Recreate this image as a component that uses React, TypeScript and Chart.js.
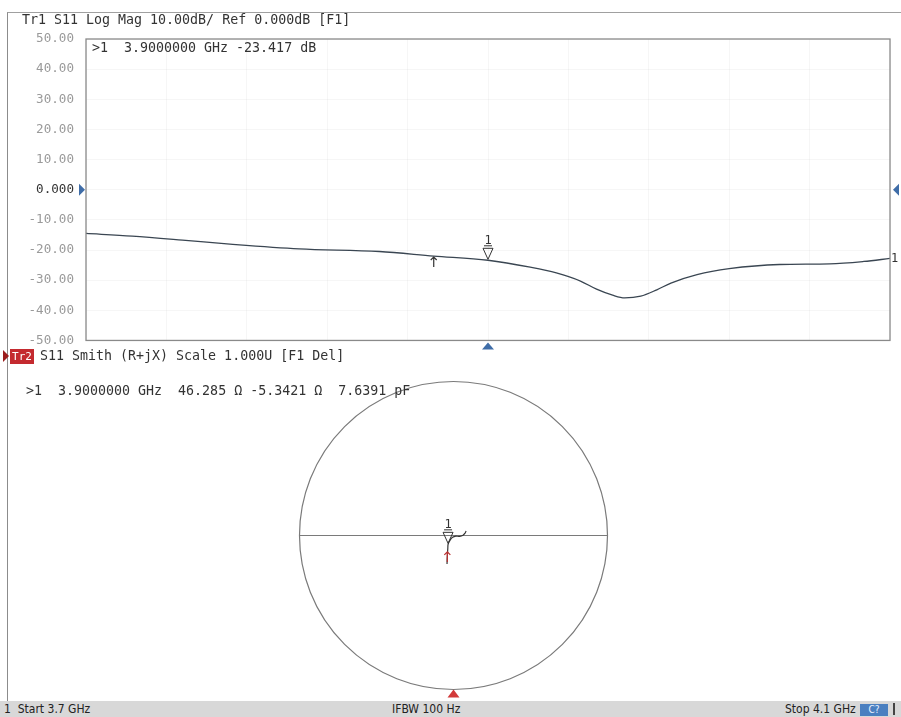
import React, { useEffect, useRef } from "react";
import { Chart, registerables } from "chart.js";
Chart.register(...registerables);

// ---- Trace 1: S11 Log Mag ----
const freqGHz = [3.700, 3.723, 3.748, 3.773, 3.806, 3.846, 3.873, 3.900, 3.921, 3.934, 3.946, 3.954, 3.962, 3.968, 3.976, 3.984, 3.991, 4.004, 4.020, 4.045, 4.070, 4.087, 4.100];
const s11dB = [-14.5, -15.4, -16.7, -18.1, -19.6, -20.5, -22.0, -23.4, -25.7, -27.6, -30.3, -33.0, -35.0, -35.9, -35.3, -33.2, -31.0, -28.2, -26.2, -24.8, -24.6, -23.8, -22.8];
const yTickValues = [-50, -40, -30, -20, -10, 0, 10, 20, 30, 40, 50];
const yTickLabels = ["-50.00", "-40.00", "-30.00", "-20.00", "-10.00", "0.000", "10.00", "20.00", "30.00", "40.00", "50.00"];
const startGHz = 3.7;
const stopGHz = 4.1;
const refLevelDb = 0;
const markerFreq = 3.9;
const markerDb = -23.417;
const auxMarkFreq = 3.873;
const auxMarkDb = -22.0;

// ---- Trace 2: S11 Smith (reflection coefficient) ----
const smithRe = [-0.042, -0.041, -0.039, -0.037, -0.035, -0.022, -0.006, 0.015, 0.040, 0.062, 0.075, 0.082];
const smithIm = [-0.185, -0.150, -0.115, -0.085, -0.057, -0.030, -0.012, -0.004, -0.006, 0.002, 0.015, 0.030];
const smithMarkerRe = -0.0354;
const smithMarkerIm = -0.0574;
const smithAuxRe = -0.040;
const smithAuxIm = -0.100;

const header1 = "Tr1 S11 Log Mag 10.00dB/ Ref 0.000dB [F1]";
const readout1 = ">1  3.9000000 GHz -23.417 dB";
const header2 = "S11 Smith (R+jX) Scale 1.000U [F1 Del]";
const readout2 = ">1  3.9000000 GHz  46.285 \u03A9 -5.3421 \u03A9  7.6391 pF";
const statusStart = "1  Start 3.7 GHz";
const statusMid = "IFBW 100 Hz";
const statusStop = "Stop 4.1 GHz";

const MONO = "'DejaVu Sans Mono', 'Liberation Mono', monospace";
const COND = "'DejaVu Sans Condensed', 'Liberation Sans Narrow', sans-serif";

function tri(ctx: CanvasRenderingContext2D, p: number[][]) {
  ctx.beginPath();
  ctx.moveTo(p[0][0], p[0][1]);
  ctx.lineTo(p[1][0], p[1][1]);
  ctx.lineTo(p[2][0], p[2][1]);
  ctx.closePath();
  ctx.fill();
}

function drawMarker(ctx: CanvasRenderingContext2D, x: number, y: number, label: string) {
  ctx.save();
  ctx.strokeStyle = "#333";
  ctx.lineWidth = 1;
  ctx.beginPath();
  ctx.moveTo(x - 5, y - 12);
  ctx.lineTo(x + 5, y - 12);
  ctx.lineTo(x, y - 1);
  ctx.closePath();
  ctx.stroke();
  ctx.beginPath();
  ctx.moveTo(x - 4, y - 14.5);
  ctx.lineTo(x + 4, y - 14.5);
  ctx.stroke();
  ctx.fillStyle = "#333";
  ctx.font = "12px " + MONO;
  ctx.textAlign = "center";
  ctx.textBaseline = "alphabetic";
  ctx.fillText(label, x, y - 16);
  ctx.restore();
}

function drawAux(ctx: CanvasRenderingContext2D, x: number, y: number, color: string) {
  ctx.save();
  ctx.strokeStyle = color;
  ctx.lineWidth = 1.2;
  ctx.beginPath();
  ctx.moveTo(x, y + 1);
  ctx.lineTo(x, y + 11);
  ctx.moveTo(x - 3, y + 4);
  ctx.lineTo(x, y + 1);
  ctx.lineTo(x + 3, y + 4);
  ctx.stroke();
  ctx.restore();
}

export default function App() {
  const c1 = useRef<HTMLCanvasElement | null>(null);
  const c2 = useRef<HTMLCanvasElement | null>(null);

  useEffect(() => {
    const decor1 = {
      id: "decor1",
      afterDraw(chart: any) {
        const { ctx, chartArea: a, scales } = chart;
        const xs = scales.x;
        const ys = scales.y;
        ctx.save();
        ctx.strokeStyle = "#8a8a8a";
        ctx.lineWidth = 1.3;
        ctx.strokeRect(a.left, a.top, a.right - a.left, a.bottom - a.top);
        const y0 = ys.getPixelForValue(refLevelDb);
        ctx.fillStyle = "#3f6da8";
        tri(ctx, [[a.left - 7, y0 - 6], [a.left - 1, y0], [a.left - 7, y0 + 6]]);
        tri(ctx, [[a.right + 9, y0 - 6], [a.right + 3, y0], [a.right + 9, y0 + 6]]);
        const mx = xs.getPixelForValue(markerFreq);
        tri(ctx, [[mx - 6, a.bottom + 9], [mx, a.bottom + 2], [mx + 6, a.bottom + 9]]);
        const my = ys.getPixelForValue(markerDb);
        drawMarker(ctx, mx, my, "1");
        drawAux(ctx, xs.getPixelForValue(auxMarkFreq), ys.getPixelForValue(auxMarkDb), "#333");
        const ye = ys.getPixelForValue(s11dB[s11dB.length - 1]);
        ctx.fillStyle = "#333";
        ctx.font = "12px " + MONO;
        ctx.textAlign = "left";
        ctx.textBaseline = "middle";
        ctx.fillText("1", a.right + 1, ye);
        ctx.restore();
      },
    };

    const chart1 = new Chart(c1.current as HTMLCanvasElement, {
      type: "line",
      data: {
        datasets: [
          {
            data: freqGHz.map((f, i) => ({ x: f, y: s11dB[i] })),
            borderColor: "#3a4652",
            borderWidth: 1.3,
            pointRadius: 0,
            cubicInterpolationMode: "monotone",
          },
        ],
      },
      options: {
        responsive: false,
        maintainAspectRatio: false,
        animation: false,
        layout: { padding: { left: 0, top: 39, right: 11, bottom: 17 } },
        plugins: { legend: { display: false }, tooltip: { enabled: false } },
        scales: {
          x: {
            type: "linear",
            min: startGHz,
            max: stopGHz,
            ticks: { display: false, stepSize: 0.04 },
            grid: { color: "rgba(0,0,0,0.035)", drawTicks: false },
            border: { display: false },
            afterFit: (s: any) => { s.height = 0; },
          },
          y: {
            min: -50,
            max: 50,
            afterBuildTicks: (s: any) => { s.ticks = yTickValues.map((v) => ({ value: v })); },
            ticks: {
              padding: 12,
              color: (c: any) => (c.tick && c.tick.value === refLevelDb ? "#333" : "#9a9a9a"),
              font: { family: MONO, size: 12.6 },
              callback: (v: any) => yTickLabels[yTickValues.indexOf(Number(v))],
            },
            grid: { color: "rgba(0,0,0,0.035)", drawTicks: false },
            border: { display: false },
            afterFit: (s: any) => { s.width = 86; },
          },
        },
      },
      plugins: [decor1],
    } as any);

    const decor2 = {
      id: "decor2",
      beforeDatasetsDraw(chart: any) {
        const { ctx, scales } = chart;
        const xs = scales.x;
        const ys = scales.y;
        const cx = xs.getPixelForValue(0);
        const cy = ys.getPixelForValue(0);
        const r = xs.getPixelForValue(1) - cx;
        ctx.save();
        ctx.strokeStyle = "#7a7a7a";
        ctx.lineWidth = 1.2;
        ctx.beginPath();
        ctx.arc(cx, cy, r, 0, Math.PI * 2);
        ctx.stroke();
        ctx.beginPath();
        ctx.moveTo(xs.getPixelForValue(-1), cy);
        ctx.lineTo(xs.getPixelForValue(1), cy);
        ctx.stroke();
        ctx.restore();
      },
      afterDraw(chart: any) {
        const { ctx, scales } = chart;
        const xs = scales.x;
        const ys = scales.y;
        const cx = xs.getPixelForValue(0);
        const cy = ys.getPixelForValue(0);
        const r = xs.getPixelForValue(1) - cx;
        ctx.save();
        ctx.fillStyle = "#d23a3a";
        tri(ctx, [[cx - 6, cy + r + 8], [cx, cy + r], [cx + 6, cy + r + 8]]);
        ctx.restore();
        drawMarker(ctx, xs.getPixelForValue(smithMarkerRe), ys.getPixelForValue(smithMarkerIm), "1");
        drawAux(ctx, xs.getPixelForValue(smithAuxRe), ys.getPixelForValue(smithAuxIm), "#b83030");
      },
    };

    const chart2 = new Chart(c2.current as HTMLCanvasElement, {
      type: "scatter",
      data: {
        datasets: [
          {
            data: smithRe.map((re, i) => ({ x: re, y: smithIm[i] })),
            showLine: true,
            borderColor: "#333",
            borderWidth: 1.2,
            pointRadius: 0,
            tension: 0.3,
          },
        ],
      },
      options: {
        responsive: false,
        maintainAspectRatio: false,
        animation: false,
        layout: { padding: { left: 299.5, top: 11.5, right: 293.5, bottom: 10.5 } },
        plugins: { legend: { display: false }, tooltip: { enabled: false } },
        scales: {
          x: { min: -1, max: 1, display: false },
          y: { min: -1, max: 1, display: false },
        },
      },
      plugins: [decor2],
    } as any);

    return () => {
      chart1.destroy();
      chart2.destroy();
    };
  }, []);

  const abs = (o: any): React.CSSProperties => ({ position: "absolute", ...o });
  const monoText: React.CSSProperties = {
    fontFamily: MONO,
    fontSize: "13.3px",
    color: "#333",
    whiteSpace: "pre",
    lineHeight: "16px",
  };
  const statusText: React.CSSProperties = {
    fontFamily: COND,
    fontSize: "12px",
    lineHeight: "16px",
    color: "#222",
    whiteSpace: "pre",
  };

  return (
    <div style={abs({ left: 0, top: 0, width: 901, height: 717, background: "#fff", overflow: "hidden" })}>
      <div style={abs({ left: 7, top: 12, width: 894, height: 688, borderLeft: "1.5px solid #8c8c8c", borderTop: "1.5px solid #a0a0a0" })} />
      <canvas ref={c1} width={901} height={360} style={abs({ left: 0, top: 0, width: 901, height: 360 })} />
      <canvas ref={c2} width={901} height={330} style={abs({ left: 0, top: 370, width: 901, height: 330 })} />
      <div style={abs({ left: 22, top: 12, ...monoText })}>{header1}</div>
      <div style={abs({ left: 92, top: 40, ...monoText })}>{readout1}</div>
      <div style={abs({ left: 3, top: 350, width: 0, height: 0, borderTop: "6px solid transparent", borderBottom: "6px solid transparent", borderLeft: "6px solid #9b1c1c" })} />
      <div style={abs({ left: 10, top: 349, width: 24, height: 15, background: "#c42a2f", color: "#fff", fontFamily: MONO, fontSize: "11px", lineHeight: "15px", textAlign: "center" })}>Tr2</div>
      <div style={abs({ left: 40, top: 348, ...monoText })}>{header2}</div>
      <div style={abs({ left: 26, top: 383, ...monoText })}>{readout2}</div>
      <div style={abs({ left: 0, top: 701, width: 901, height: 16, background: "#d8d8d8" })} />
      <div style={abs({ left: 4, top: 701, ...statusText })}>{statusStart}</div>
      <div style={abs({ left: 392, top: 701, ...statusText })}>{statusMid}</div>
      <div style={abs({ left: 785, top: 701, ...statusText })}>{statusStop}</div>
      <div style={abs({ left: 860, top: 704, width: 28, height: 12, background: "#4a7fc0", color: "#e8f0ff", fontFamily: COND, fontSize: "10px", lineHeight: "12px", textAlign: "center" })}>C?</div>
      <div style={abs({ left: 893, top: 703, width: 1.5, height: 12, background: "#444" })} />
    </div>
  );
}
